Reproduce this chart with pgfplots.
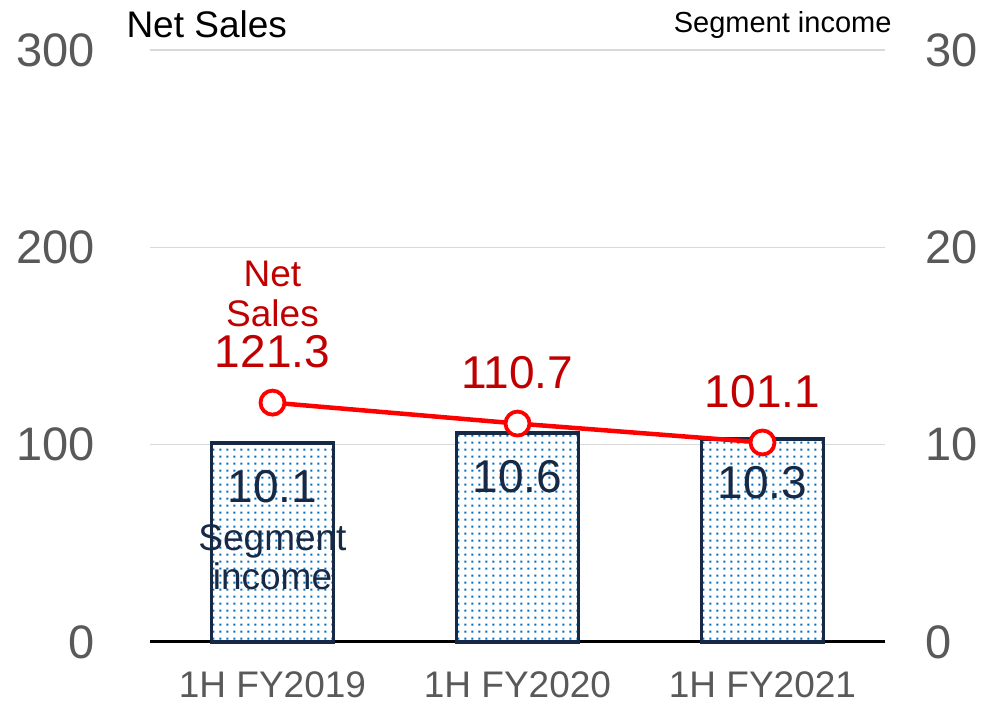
\documentclass[border=0pt]{standalone}
\usepackage{pgfplots}
\pgfplotsset{compat=1.18}
\usepackage{fontspec}
\setmainfont{Liberation Sans}
\usetikzlibrary{patterns.meta,calc}
\definecolor{navy}{RGB}{22,42,72}
\definecolor{dotblue}{RGB}{0,112,192}
\definecolor{lred}{RGB}{255,0,0}
\definecolor{dred}{RGB}{192,0,0}
\definecolor{tickgray}{RGB}{89,89,89}
\definecolor{gridgray}{RGB}{217,217,217}
\tikzdeclarepattern{name=bardots, type=uncolored,
  bounding box={(0pt,0pt) and (6.8pt,6.8pt)},
  tile size={(6.8pt,6.8pt)},
  code={\fill (2.4pt,2.4pt) rectangle (4.4pt,4.4pt);}}
\newcommand{\fbig}{\fontsize{47}{56}\selectfont}
\newcommand{\fval}{\fontsize{46}{55}\selectfont}
\newcommand{\fmid}{\fontsize{37}{40}\selectfont}
\newcommand{\fsmall}{\fontsize{29}{34}\selectfont}
\begin{document}
\begin{tikzpicture}
\pgfplotsset{common/.style={
  scale only axis, width=735pt, height=592pt,
  xmin=-0.5, xmax=2.5, xtick={0,1,2},
  major tick length=0pt,
  /pgf/number format/assume math mode=true,
  y axis line style={draw=none},
  clip=false,
}}
% Bars: segment income (right axis)
\begin{axis}[common,
  ymin=0, ymax=30, ytick={0,10,20,30},
  axis y line*=right, axis x line*=bottom,
  x axis line style={-, line width=3pt, black},
  ymajorgrids, grid style={gridgray, line width=1.5pt},
  xticklabels={1H FY2019,1H FY2020,1H FY2021},
  xticklabel style={anchor=north, inner sep=0pt, yshift=-29pt, font=\fmid, text=tickgray},
  yticklabel style={anchor=west, inner sep=0pt, xshift=40pt, font=\fbig, text=tickgray},
]
\coordinate (ll) at (rel axis cs:0,0);
\coordinate (ur) at (rel axis cs:1,1);
\addplot[ybar, bar width=122pt, draw=navy, line width=3.8pt, fill=white,
  postaction={pattern=bardots, pattern color=dotblue}]
  coordinates {(0,10.1) (1,10.6) (2,10.3)};
\addplot[draw=none, mark=none, nodes near coords, point meta=explicit symbolic,
  every node near coord/.append style={anchor=base, yshift=-60pt, font=\fval, text=navy}]
  coordinates {(0,10.1) [10.1] (1,10.6) [10.6] (2,10.3) [10.3]};
\node[anchor=base, font=\fmid, text=navy] at (axis cs:0,4.66) {Segment};
\node[anchor=base, font=\fmid, text=navy] at (axis cs:0,2.64) {income};
\end{axis}
% Line: net sales (left axis)
\begin{axis}[common,
  ymin=0, ymax=300, ytick={0,100,200,300},
  axis y line*=left, hide x axis,
  yticklabel style={anchor=east, inner sep=0pt, xshift=-55pt, font=\fbig, text=tickgray},
]
\addplot[lred, line width=4.5pt, mark=*, mark size=12pt,
  mark options={fill=white, draw=lred, line width=3.8pt},
  nodes near coords, point meta=explicit symbolic,
  every node near coord/.append style={anchor=base, yshift=35pt, font=\fval, text=dred}]
  coordinates {(0,121.3) [121.3] (1,110.7) [110.7] (2,101.1) [101.1]};
\node[anchor=base, font=\fmid, text=dred, yshift=116pt] at (axis cs:0,121.3) {Net};
\node[anchor=base, font=\fmid, text=dred, yshift=76pt] at (axis cs:0,121.3) {Sales};
\end{axis}
\node[anchor=base west, font=\fmid, text=black] at ($(ll|-ur)+(-27pt,12pt)$) {Net Sales};
\node[anchor=base east, font=\fsmall, text=black] at ($(ur)+(10pt,17pt)$) {Segment income};
\pgfresetboundingbox
\path ($(ll)+(-150pt,-61pt)$) rectangle ($(ur)+(101pt,50pt)$);
\end{tikzpicture}
\end{document}
